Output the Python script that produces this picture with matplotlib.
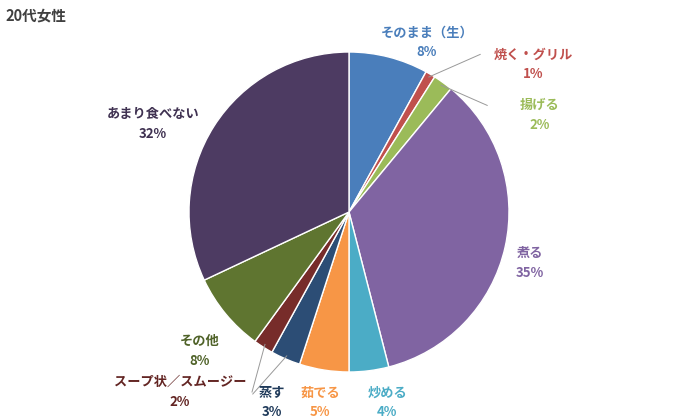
import matplotlib
matplotlib.use("Agg")
import matplotlib.pyplot as plt
import numpy as np

plt.rcParams['font.family'] = ['Noto Sans CJK JP', 'DejaVu Sans']

categories = ["そのまま（生）", "焼く・グリル", "揚げる", "煮る", "炒める", "茹でる", "蒸す", "スープ状／スムージー", "その他", "あまり食べない"]
values = [8, 1, 2, 35, 4, 5, 3, 2, 8, 32]
colors = ["#4a7ebb", "#c0504d", "#9bbb59", "#8064a2", "#4bacc6", "#f79646",
          "#2c4d75", "#772c2a", "#5f7530", "#4d3b62"]
text_colors = ["#4a7ebb", "#c0504d", "#9bbb59", "#8064a2", "#4bacc6", "#f79646",
               "#1f3a5a", "#632523", "#4f6228", "#3f3151"]

# label pixel positions (layout)
label_px = [(427, 42), (533, 64), (540, 115), (530, 263), (387, 402), (320, 402),
            (272, 402), (180, 392), (200, 351), (153, 124)]
leader = [False, True, True, False, False, False, True, True, False, False]

fig = plt.figure(figsize=(7, 4.2), dpi=100)
cx, cy, R = 349, 212, 160
ax = fig.add_axes([(cx - R) / 700, (420 - cy - R) / 420, 2 * R / 700, 2 * R / 420])
wedges, _ = ax.pie(values, colors=colors, startangle=90, counterclock=False,
                   wedgeprops=dict(edgecolor="white", linewidth=1))
ax.set_xlim(-1, 1); ax.set_ylim(-1, 1); ax.set_aspect('equal')
ax.set_clip_on(False)

for w, cat, v, (px, py), ld, tc in zip(wedges, categories, values, label_px, leader, text_colors):
    x, y = (px - cx) / R, (cy - py) / R
    ax.text(x, y, f"{cat}\n{v}%", ha="center", va="center", fontsize=9.5,
            fontweight="bold", color=tc, linespacing=1.5, clip_on=False)
    if ld:
        a = np.deg2rad((w.theta1 + w.theta2) / 2)
        ex, ey = np.cos(a), np.sin(a)
        tx = x - 0.33 if x > 0 else x + 0.45
        ty = y + 0.06 if y > 0 else y
        if cat == "蒸す":
            tx, ty = x - 0.12, y + 0.05
        ax.plot([ex * 0.98, tx], [ey * 0.98, ty], color="#999999", lw=0.7, clip_on=False)

fig.text(5 / 700, 1 - 15 / 420, "20代女性", fontsize=10.5, fontweight="bold",
         color="#404040", va="center", ha="left")
fig.savefig("out.png", dpi=100)
